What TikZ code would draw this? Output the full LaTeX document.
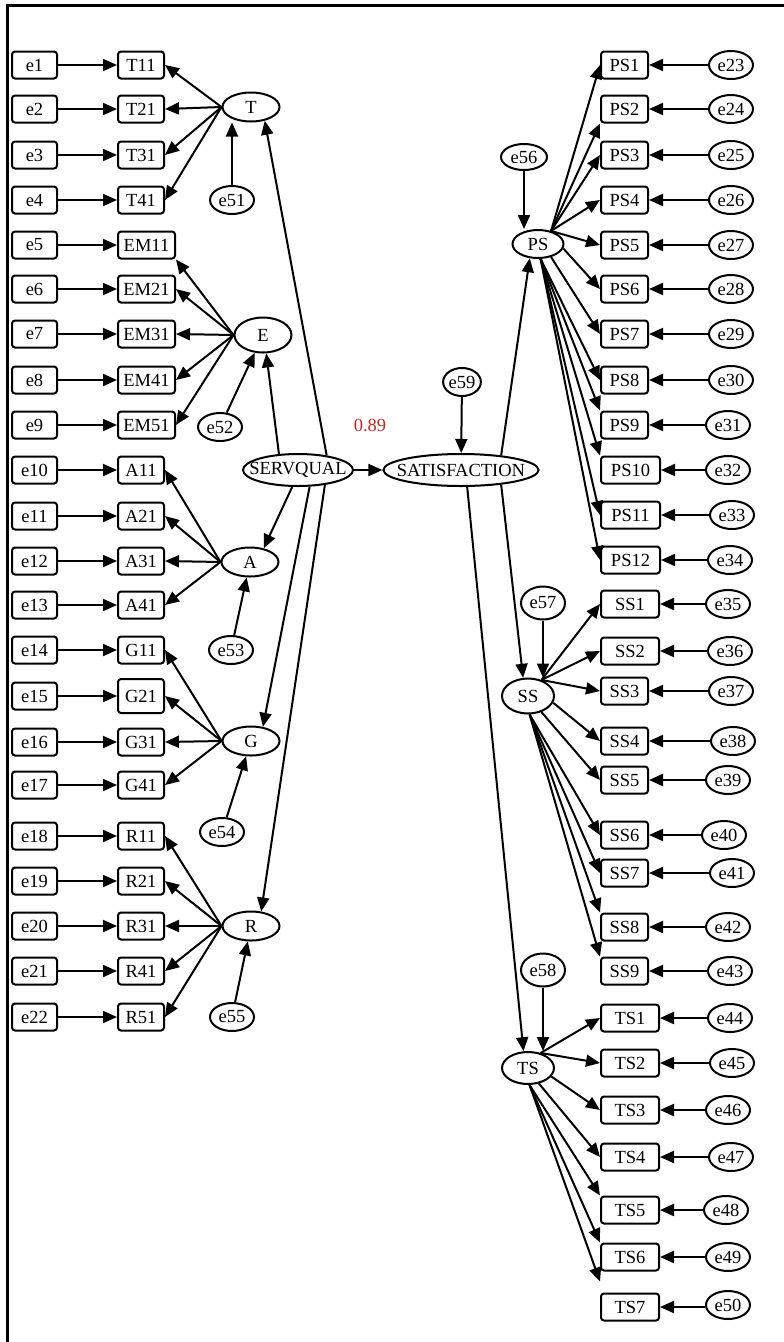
\documentclass[tikz,border=0pt]{standalone}
\usepackage{fontspec}
\setmainfont{Liberation Serif}
\usepackage{xcolor}
\usepackage{tikz}
\usetikzlibrary{arrows.meta}
\usetikzlibrary{shapes.geometric}
\definecolor{coefred}{RGB}{190,40,40}

\begin{document}
\begin{tikzpicture}[x=1pt,y=-1pt,
	every node/.style={font=\fontsize{18.5}{21}\selectfont,inner sep=0pt},
	mbox/.style={draw,line width=2pt,rounded corners=3pt,minimum height=27pt},
	errbox/.style={mbox,minimum width=45pt},
	ind/.style={mbox,anchor=west,minimum width=46pt},
	indw/.style={mbox,anchor=west,minimum width=57pt},
	latent/.style={draw,ellipse,line width=2pt,minimum width=57pt,minimum height=29pt},
	resid/.style={draw,ellipse,line width=2pt,minimum width=44pt,minimum height=28pt},
	arw/.style={-{Triangle[length=14pt,width=12pt]},line width=2pt}]
		\useasboundingbox (0,0) rectangle (784,1342);
		\draw[line width=3pt] (7.5,1342) -- (7.5,5.5) -- (784,5.5);
		% left measurement part
		\node[errbox] (e1) at (34.5,65) {e1};
		\node[errbox] (e2) at (34.5,109) {e2};
		\node[errbox] (e3) at (34.5,155) {e3};
		\node[errbox] (e4) at (34.5,200) {e4};
		\node[errbox] (e5) at (34.5,245) {e5};
		\node[errbox] (e6) at (34.5,289) {e6};
		\node[errbox] (e7) at (34.5,334) {e7};
		\node[errbox] (e8) at (34.5,380) {e8};
		\node[errbox] (e9) at (34.5,425) {e9};
		\node[errbox] (e10) at (34.5,470) {e10};
		\node[errbox] (e11) at (34.5,516) {e11};
		\node[errbox] (e12) at (34.5,561) {e12};
		\node[errbox] (e13) at (34.5,605) {e13};
		\node[errbox] (e14) at (34.5,650) {e14};
		\node[errbox] (e15) at (34.5,696) {e15};
		\node[errbox] (e16) at (34.5,742) {e16};
		\node[errbox] (e17) at (34.5,785) {e17};
		\node[errbox] (e18) at (34.5,836) {e18};
		\node[errbox] (e19) at (34.5,881) {e19};
		\node[errbox] (e20) at (34.5,926) {e20};
		\node[errbox] (e21) at (34.5,971) {e21};
		\node[errbox] (e22) at (34.5,1017) {e22};
		\node[ind] (T11) at (117,65) {T11};
		\node[ind] (T21) at (117,109) {T21};
		\node[ind] (T31) at (117,155) {T31};
		\node[ind] (T41) at (117,200) {T41};
		\node[indw] (EM11) at (117,245) {EM11};
		\node[indw] (EM21) at (117,289) {EM21};
		\node[indw] (EM31) at (117,334) {EM31};
		\node[indw] (EM41) at (117,380) {EM41};
		\node[indw] (EM51) at (117,425) {EM51};
		\node[ind] (A11) at (117,470) {A11};
		\node[ind] (A21) at (117,516) {A21};
		\node[ind] (A31) at (117,561) {A31};
		\node[ind] (A41) at (117,605) {A41};
		\node[ind] (G11) at (117,650) {G11};
		\node[ind,minimum height=34pt] (G21) at (117,696) {G21};
		\node[ind] (G31) at (117,742) {G31};
		\node[ind] (G41) at (117,785) {G41};
		\node[ind] (R11) at (117,836) {R11};
		\node[ind] (R21) at (117,881) {R21};
		\node[ind] (R31) at (117,926) {R31};
		\node[ind] (R41) at (117,971) {R41};
		\node[ind] (R51) at (117,1017) {R51};
		\node[latent] (T) at (251,107) {T};
		\node[latent,minimum height=35pt] (E) at (263,335) {E};
		\node[latent] (A) at (250,562) {A};
		\node[latent] (G) at (251,741) {G};
		\node[latent] (R) at (251,926) {R};
		\node[resid] (e51) at (232,200) {e51};
		\node[resid] (e52) at (220,427) {e52};
		\node[resid] (e53) at (231,650) {e53};
		\node[resid] (e54) at (222,832) {e54};
		\node[resid] (e55) at (232,1017) {e55};
		\draw[arw] (e1) -- (T11);
		\draw[arw] (e2) -- (T21);
		\draw[arw] (e3) -- (T31);
		\draw[arw] (e4) -- (T41);
		\draw[arw] (e5) -- (EM11);
		\draw[arw] (e6) -- (EM21);
		\draw[arw] (e7) -- (EM31);
		\draw[arw] (e8) -- (EM41);
		\draw[arw] (e9) -- (EM51);
		\draw[arw] (e10) -- (A11);
		\draw[arw] (e11) -- (A21);
		\draw[arw] (e12) -- (A31);
		\draw[arw] (e13) -- (A41);
		\draw[arw] (e14) -- (G11);
		\draw[arw] (e15) -- (G21);
		\draw[arw] (e16) -- (G31);
		\draw[arw] (e17) -- (G41);
		\draw[arw] (e18) -- (R11);
		\draw[arw] (e19) -- (R21);
		\draw[arw] (e20) -- (R31);
		\draw[arw] (e21) -- (R41);
		\draw[arw] (e22) -- (R51);
		\draw[arw] (T.west) -- (T11.east);
		\draw[arw] (T.west) -- (T21.east);
		\draw[arw] (T.west) -- (T31.east);
		\draw[arw] (T.west) -- (T41.east);
		\draw[arw] (E.west) -- (EM11.south east);
		\draw[arw] (E.west) -- (EM21.east);
		\draw[arw] (E.west) -- (EM31.east);
		\draw[arw] (E.west) -- (EM41.east);
		\draw[arw] (E.west) -- (EM51.east);
		\draw[arw] (A.west) -- (A11.east);
		\draw[arw] (A.west) -- (A21.east);
		\draw[arw] (A.west) -- (A31.east);
		\draw[arw] (A.west) -- (A41.east);
		\draw[arw] (G.west) -- (G11.east);
		\draw[arw] (G.west) -- (G21.east);
		\draw[arw] (G.west) -- (G31.east);
		\draw[arw] (G.west) -- (G41.east);
		\draw[arw] (R.west) -- (R11.east);
		\draw[arw] (R.west) -- (R21.east);
		\draw[arw] (R.west) -- (R31.east);
		\draw[arw] (R.west) -- (R41.east);
		\draw[arw] (R.west) -- (R51.east);
		\draw[arw] (e51) -- (e51 |- T.south);
		\draw[arw] (e52) -- (E);
		\draw[arw] (e53) -- (A);
		\draw[arw] (e54) -- (G);
		\draw[arw] (e55) -- (R);
		% structural part
		\node[latent,minimum height=32pt,inner xsep=-9.7pt] (SERVQUAL) at (298,470) {SERVQUAL};
		\node[latent,minimum height=32pt,inner xsep=-9.2pt] (SATISFACTION) at (461,470) {SATISFACTION};
		\node[text=coefred] (coef) at (370,425) {0.89};
		\node[resid,minimum width=36pt] (e59) at (462,382) {e59};
		\draw[arw] (SERVQUAL) -- (SATISFACTION);
		\draw[arw] (e59) -- (SATISFACTION);
		\draw[arw] (SERVQUAL.27) -- (T.-45);
		\draw[arw] (SERVQUAL.140) -- (E.-80);
		\draw[arw] (SERVQUAL.-109) -- (A.45);
		\draw[arw] (SERVQUAL.-55) -- (G.50);
		\draw[arw] (SERVQUAL.-29) -- (R.55);
		% right measurement part
		\node[latent,minimum width=51pt,minimum height=28pt] (PS) at (538,244) {PS};
		\node[latent,minimum width=52pt,minimum height=35pt] (SS) at (528,696) {SS};
		\node[latent,minimum width=52pt,minimum height=32pt] (TS) at (528,1068) {TS};
		\node[resid,minimum width=46pt,minimum height=26pt] (e56) at (524,157) {e56};
		\node[resid,minimum height=33pt] (e57) at (543,603) {e57};
		\node[resid,minimum height=33pt] (e58) at (543,970) {e58};
		\draw[arw] (SATISFACTION.20) -- (PS.-120);
		\draw[arw] (SATISFACTION.-20) -- (SS.105);
		\draw[arw] (SATISFACTION.-70) -- (TS.105);
		\draw[arw] (e56) -- (e56 |- PS.north);
		\draw[arw] (e57) -- (e57 |- SS.north);
		\draw[arw] (e58) -- (e58 |- TS.north);
		\node[ind,minimum width=47pt] (PS1) at (600,65) {PS1};
		\node[ind,minimum width=47pt] (PS2) at (600,109) {PS2};
		\node[ind,minimum width=47pt] (PS3) at (600,155) {PS3};
		\node[ind,minimum width=47pt] (PS4) at (600,200) {PS4};
		\node[ind,minimum width=47pt] (PS5) at (600,245) {PS5};
		\node[ind,minimum width=47pt] (PS6) at (600,289) {PS6};
		\node[ind,minimum width=47pt] (PS7) at (600,334) {PS7};
		\node[ind,minimum width=47pt] (PS8) at (600,380) {PS8};
		\node[ind,minimum width=47pt] (PS9) at (600,425) {PS9};
		\node[indw,minimum width=59pt] (PS10) at (600,470) {PS10};
		\node[indw,minimum width=59pt] (PS11) at (600,515) {PS11};
		\node[indw,minimum width=59pt] (PS12) at (600,560) {PS12};
		\node[indw,minimum width=58pt] (SS1) at (600,604) {SS1};
		\node[indw,minimum width=58pt] (SS2) at (600,651) {SS2};
		\node[ind,minimum width=47pt] (SS3) at (600,691) {SS3};
		\node[ind,minimum width=47pt] (SS4) at (600,741) {SS4};
		\node[ind,minimum width=47pt] (SS5) at (600,780) {SS5};
		\node[ind,minimum width=47pt] (SS6) at (600,835) {SS6};
		\node[ind,minimum width=47pt] (SS7) at (600,873) {SS7};
		\node[ind,minimum width=47pt] (SS8) at (600,927) {SS8};
		\node[ind,minimum width=47pt] (SS9) at (600,971) {SS9};
		\node[indw,minimum width=58pt] (TS1) at (600,1018) {TS1};
		\node[indw,minimum width=58pt] (TS2) at (600,1063) {TS2};
		\node[indw,minimum width=58pt] (TS3) at (600,1110) {TS3};
		\node[indw,minimum width=58pt] (TS4) at (600,1157) {TS4};
		\node[indw,minimum width=58pt] (TS5) at (600,1210) {TS5};
		\node[indw,minimum width=58pt] (TS6) at (600,1257) {TS6};
		\node[indw,minimum width=58pt] (TS7) at (600,1307) {TS7};
		\node[resid] (e23) at (731,65) {e23};
		\node[resid] (e24) at (731,109) {e24};
		\node[resid] (e25) at (731,155) {e25};
		\node[resid] (e26) at (731,200) {e26};
		\node[resid] (e27) at (731,245) {e27};
		\node[resid] (e28) at (731,289) {e28};
		\node[resid] (e29) at (731,334) {e29};
		\node[resid] (e30) at (731,380) {e30};
		\node[resid] (e31) at (728,425) {e31};
		\node[resid] (e32) at (728,470) {e32};
		\node[resid] (e33) at (732,515) {e33};
		\node[resid] (e34) at (730,560) {e34};
		\node[resid] (e35) at (728,604) {e35};
		\node[resid] (e36) at (730,651) {e36};
		\node[resid] (e37) at (731,691) {e37};
		\node[resid] (e38) at (733,741) {e38};
		\node[resid] (e39) at (728,780) {e39};
		\node[resid] (e40) at (724,835) {e40};
		\node[resid] (e41) at (732,873) {e41};
		\node[resid] (e42) at (728,927) {e42};
		\node[resid] (e43) at (730,971) {e43};
		\node[resid] (e44) at (730,1018) {e44};
		\node[resid] (e45) at (732,1063) {e45};
		\node[resid] (e46) at (728,1110) {e46};
		\node[resid] (e47) at (731,1157) {e47};
		\node[resid] (e48) at (726,1210) {e48};
		\node[resid] (e49) at (728,1257) {e49};
		\node[resid] (e50) at (728,1305) {e50};
		\draw[arw] (e23) -- (PS1);
		\draw[arw] (e24) -- (PS2);
		\draw[arw] (e25) -- (PS3);
		\draw[arw] (e26) -- (PS4);
		\draw[arw] (e27) -- (PS5);
		\draw[arw] (e28) -- (PS6);
		\draw[arw] (e29) -- (PS7);
		\draw[arw] (e30) -- (PS8);
		\draw[arw] (e31) -- (PS9);
		\draw[arw] (e32) -- (PS10);
		\draw[arw] (e33) -- (PS11);
		\draw[arw] (e34) -- (PS12);
		\draw[arw] (e35) -- (SS1);
		\draw[arw] (e36) -- (SS2);
		\draw[arw] (e37) -- (SS3);
		\draw[arw] (e38) -- (SS4);
		\draw[arw] (e39) -- (SS5);
		\draw[arw] (e40) -- (SS6);
		\draw[arw] (e41) -- (SS7);
		\draw[arw] (e42) -- (SS8);
		\draw[arw] (e43) -- (SS9);
		\draw[arw] (e44) -- (TS1);
		\draw[arw] (e45) -- (TS2);
		\draw[arw] (e46) -- (TS3);
		\draw[arw] (e47) -- (TS4);
		\draw[arw] (e48) -- (TS5);
		\draw[arw] (e49) -- (TS6);
		\draw[arw] (e50.west |- TS7) -- (TS7);
		\draw[arw] (PS.45) -- (PS1.west);
		\draw[arw] (PS.45) -- (PS2.south west);
		\draw[arw] (PS.45) -- (PS3.west);
		\draw[arw] (PS.45) -- (PS4.west);
		\draw[arw] (PS.45) -- (PS5.west);
		\draw[arw] (PS.-10) -- (PS6.west);
		\draw[arw] (PS.-45) -- (PS7.west);
		\draw[arw] (PS.-80) -- (PS8.west);
		\draw[arw] (PS.-80) -- (PS9.north west);
		\draw[arw] (PS.-80) -- (PS10.north west);
		\draw[arw] (PS.-80) -- (PS11.west);
		\draw[arw] (PS.-80) -- (PS12.west);
		\draw[arw] (SS.50) -- (SS1.west);
		\draw[arw] (SS.50) -- (SS2.west);
		\draw[arw] (SS.50) -- (SS3.west);
		\draw[arw] (SS.-15) -- (SS4.west);
		\draw[arw] (SS.-50) -- (SS5.west);
		\draw[arw] (SS.-85) -- (SS6.west);
		\draw[arw] (SS.-85) -- (SS7.west);
		\draw[arw] (SS.-85) -- (SS8.north west);
		\draw[arw] (SS.-85) -- (SS9.north west);
		\draw[arw] (TS.50) -- (TS1.west);
		\draw[arw] (TS.50) -- (TS2.west);
		\draw[arw] (TS.-20) -- (TS3.west);
		\draw[arw] (TS.-55) -- (TS4.west);
		\draw[arw] (TS.-85) -- (TS5.north west);
		\draw[arw] (TS.-85) -- (TS6.north west);
		\draw[arw] (TS.-85) -- ([yshift=11pt]TS7.north west);
	\end{tikzpicture}
\end{document}
